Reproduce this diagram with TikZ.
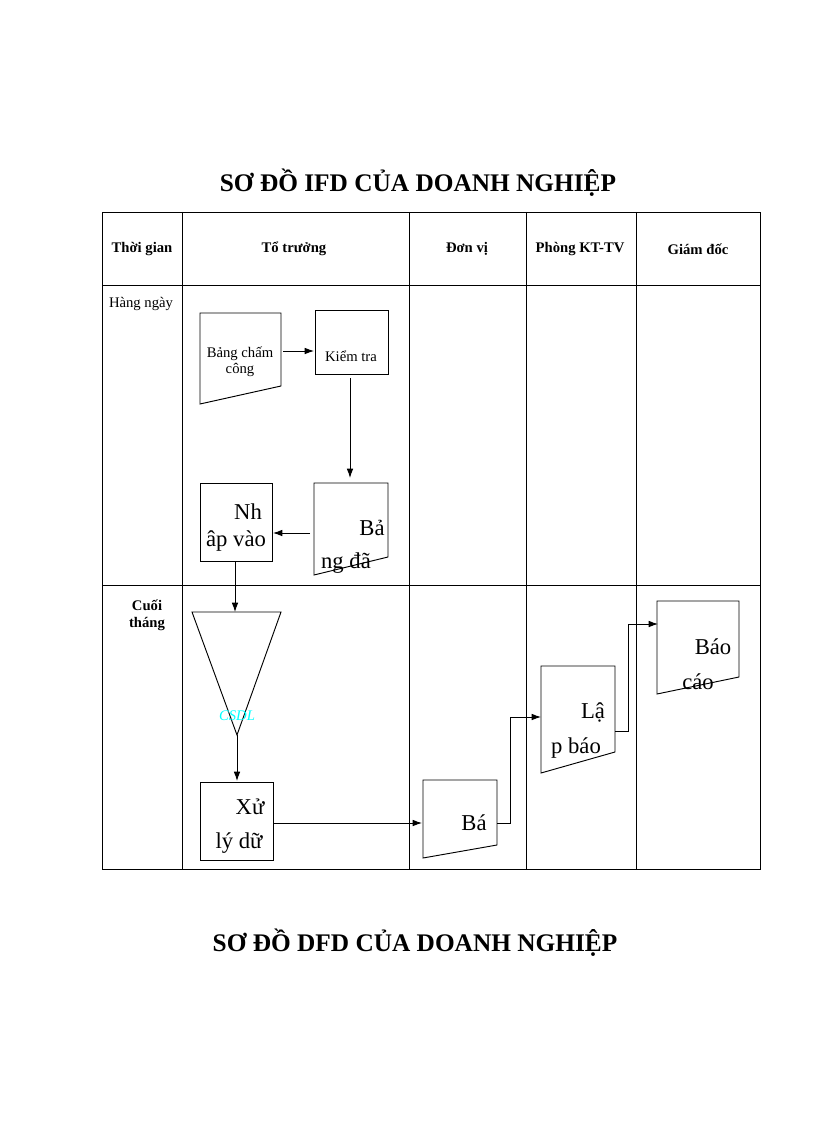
\documentclass[tikz,border=0pt]{standalone}
\usepackage{fontspec}
\setmainfont{Liberation Serif}
\definecolor{cy}{RGB}{0,255,255}
\begin{document}
\begin{tikzpicture}[x=0.75pt,y=-0.75pt,
  ln/.style={line width=0.7pt},
  arr/.style={ln,-{Latex[length=7pt,width=5pt]}},
  hd/.style={font=\bfseries\fontsize{11}{13}\selectfont},
  sm/.style={font=\fontsize{11}{12}\selectfont,align=center},
  bg/.style={font=\fontsize{17}{19}\selectfont,inner sep=0pt}]
\usetikzlibrary{arrows.meta}
\useasboundingbox (0,0) rectangle (816,1123);
\node[font=\bfseries\fontsize{19}{21}\selectfont] (t1) at (418,183) {SƠ ĐỒ IFD CỦA DOANH NGHIỆP};
\node[font=\bfseries\fontsize{19}{21}\selectfont] (t2) at (415,943) {SƠ ĐỒ DFD CỦA DOANH NGHIỆP};
% table
\draw[ln] (102,212) rectangle (760,869);
\draw[ln] (102,285) -- (760,285) (102,585) -- (760,585);
\foreach \x in {182,409,526,636} \draw[ln] (\x,212) -- (\x,869);
\node[hd] (h1) at (142,249) {Thời gian};
\node[hd] (h2) at (294,249) {Tổ trưởng};
\node[hd] (h3) at (467,249) {Đơn vị};
\node[hd] (h4) at (580,249) {Phòng KT-TV};
\node[hd] (h5) at (698,249) {Giám đốc};
\node[font=\fontsize{11}{12}\selectfont] (r1) at (141,304) {Hàng ngày};
\node[hd,align=center] (r2) at (147,615) {Cuối\\tháng};
% Bang cham cong
\draw[ln] (200,313) -- (281,313) -- (281,386) -- (200,404) -- cycle;
\node[sm] (bcc) at (240,362) {Bảng chấm\\công};
\draw[ln] (315,310) rectangle (388,374);
\node[sm] (kt) at (351,356) {Kiểm tra};
\coordinate (a1) at (283,351); \coordinate (a2) at (314,351);
\draw[arr] (a1) -- (a2);
\coordinate (b1) at (350,378); \coordinate (b2) at (350,478);
\draw[arr] (b1) -- (b2);
% Bang da
\draw[ln] (314,483) -- (388,483) -- (388,557) -- (314,575) -- cycle;
\node[bg] (bd1) at (372,528) {Bả};
\node[bg] (bd2) at (346,563) {ng đã};
% Nhap vao
\draw[ln] (200,483) rectangle (272,561);
\node[bg] (nv1) at (248,512) {Nh};
\node[bg] (nv2) at (236,541) {âp vào};
\coordinate (c1) at (310,533); \coordinate (c2) at (273,533);
\draw[arr] (c1) -- (c2);
\coordinate (d1) at (235,561); \coordinate (d2) at (235,612);
\draw[arr] (d1) -- (d2);
% CSDL
\draw[ln] (192,612) -- (281,612) -- (237,735) -- cycle;
\node[font=\itshape\fontsize{11}{12}\selectfont,text=cy] (cs) at (237,716) {CSDL};
\coordinate (e1) at (237,735); \coordinate (e2) at (237,781);
\draw[arr] (e1) -- (e2);
% Xu ly
\draw[ln] (200,782) rectangle (273,860);
\node[bg] (x1) at (250,807) {Xử};
\node[bg] (x2) at (239,843) {lý dữ};
\coordinate (f1) at (274,823); \coordinate (f2) at (422,823);
\draw[arr] (f1) -- (f2);
% Bao cao don vi
\draw[ln] (423,780) -- (497,780) -- (497,845) -- (423,858) -- cycle;
\node[bg] (bc1) at (474,823) {Bá};
\coordinate (g1) at (497,823); \coordinate (g2) at (541,717);
\draw[arr] (g1) -- (510,823) -- (510,717) -- (g2);
% Lap bao
\draw[ln] (541,666) -- (615,666) -- (615,752) -- (541,773) -- cycle;
\node[bg] (lb1) at (593,712) {Lậ};
\node[bg] (lb2) at (576,748) {p báo};
\coordinate (h1a) at (615,731); \coordinate (h2a) at (658,624);
\draw[arr] (h1a) -- (628,731) -- (628,624) -- (h2a);
% Bao cao giam doc
\draw[ln] (657,601) -- (739,601) -- (739,677) -- (657,694) -- cycle;
\node[bg] (gd1) at (713,647) {Báo};
\node[bg] (gd2) at (698,682) {cáo};
\end{tikzpicture}
\end{document}
